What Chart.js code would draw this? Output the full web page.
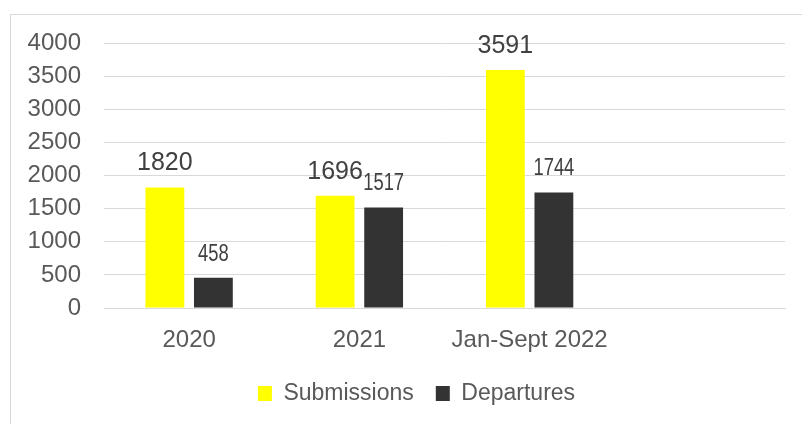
<!DOCTYPE html>
<html>
<head>
<meta charset="utf-8">
<script src="https://cdn.jsdelivr.net/npm/chart.js@4.4.0/dist/chart.umd.min.js"></script>
<style>
    body { margin: 0; background: #ffffff; }
    #wrap { position: relative; width: 802px; height: 424px; overflow: hidden; }
    #frame {
        position: absolute; left: 10px; top: 14px; width: 900px; height: 500px;
        border: 1px solid #d9d9d9; box-sizing: border-box;
    }
    #chart { position: absolute; left: 0; top: 0; }
</style>
</head>
<body>
<div id="wrap">
    <div id="frame"></div>
    <canvas id="chart" width="802" height="424"></canvas>
</div>
<script>
const categories = ["2020", "2021", "Jan-Sept 2022", ""];
const submissions = [1820, 1696, 3591, null];
const departures = [458, 1517, 1744, null];
const yTicks = [0, 500, 1000, 1500, 2000, 2500, 3000, 3500, 4000];

// font + horizontal squeeze for the labels of each series
const labelStyles = [
    { font: "25px 'Liberation Sans', Arial, sans-serif", squeeze: 1 },
    { font: "23px 'Liberation Sans', Arial, sans-serif", squeeze: 0.8 },
];

// value labels above each bar
const valueLabels = {
    id: "valueLabels",
    afterDatasetsDraw(chart) {
        const ctx = chart.ctx;
        chart.data.datasets.forEach((ds, i) => {
            const meta = chart.getDatasetMeta(i);
            const style = labelStyles[i];
            meta.data.forEach((bar, j) => {
                const v = ds.data[j];
                if (v == null) return;
                ctx.save();
                ctx.fillStyle = "#404040";
                ctx.textAlign = "center";
                ctx.textBaseline = "alphabetic";
                ctx.font = style.font;
                ctx.translate(bar.x, bar.y - 17);
                ctx.scale(style.squeeze, 1);
                ctx.fillText(String(v), 0, 0);
                ctx.restore();
            });
        });
    },
};

// legend sits a bit right of the canvas centre in the original
const legendShift = {
    id: "legendShift",
    afterLayout(chart) {
        chart.legend.left += 14;
        chart.legend.right += 14;
    },
};

const ctx = document.getElementById("chart").getContext("2d");
new Chart(ctx, {
    type: "bar",
    data: {
        labels: categories,
        datasets: [
            {
                label: "Submissions",
                data: submissions,
                backgroundColor: "#ffff00",
                categoryPercentage: 0.57,
                barPercentage: 0.8,
            },
            {
                label: "Departures",
                data: departures,
                backgroundColor: "#333333",
                categoryPercentage: 0.57,
                barPercentage: 0.8,
            },
        ],
    },
    options: {
        responsive: false,
        animation: false,
        layout: {
            padding: { left: 20, right: 17, top: 43, bottom: 9 },
        },
        plugins: {
            legend: {
                position: "bottom",
                labels: {
                    boxWidth: 14,
                    boxHeight: 15,
                    padding: 22,
                    color: "#595959",
                    font: { family: "'Liberation Sans', Arial, sans-serif", size: 23 },
                },
            },
            tooltip: { enabled: false },
        },
        scales: {
            x: {
                grid: { display: false },
                border: { color: "#d9d9d9" },
                afterFit(scale) {
                    scale.height = 52;
                },
                ticks: {
                    color: "#595959",
                    padding: 10,
                    font: { family: "'Liberation Sans', Arial, sans-serif", size: 24 },
                },
            },
            y: {
                min: 0,
                max: 4000,
                afterBuildTicks(scale) {
                    scale.ticks = yTicks.map((v) => ({ value: v }));
                },
                afterFit(scale) {
                    scale.width = 84;
                },
                border: { display: false },
                grid: { color: "#d9d9d9", drawTicks: false },
                ticks: {
                    autoSkip: false,
                    color: "#595959",
                    padding: 23,
                    callback: (v) => String(v),
                    font: { family: "'Liberation Sans', Arial, sans-serif", size: 24 },
                },
            },
        },
    },
    plugins: [valueLabels, legendShift],
});
</script>
</body>
</html>
